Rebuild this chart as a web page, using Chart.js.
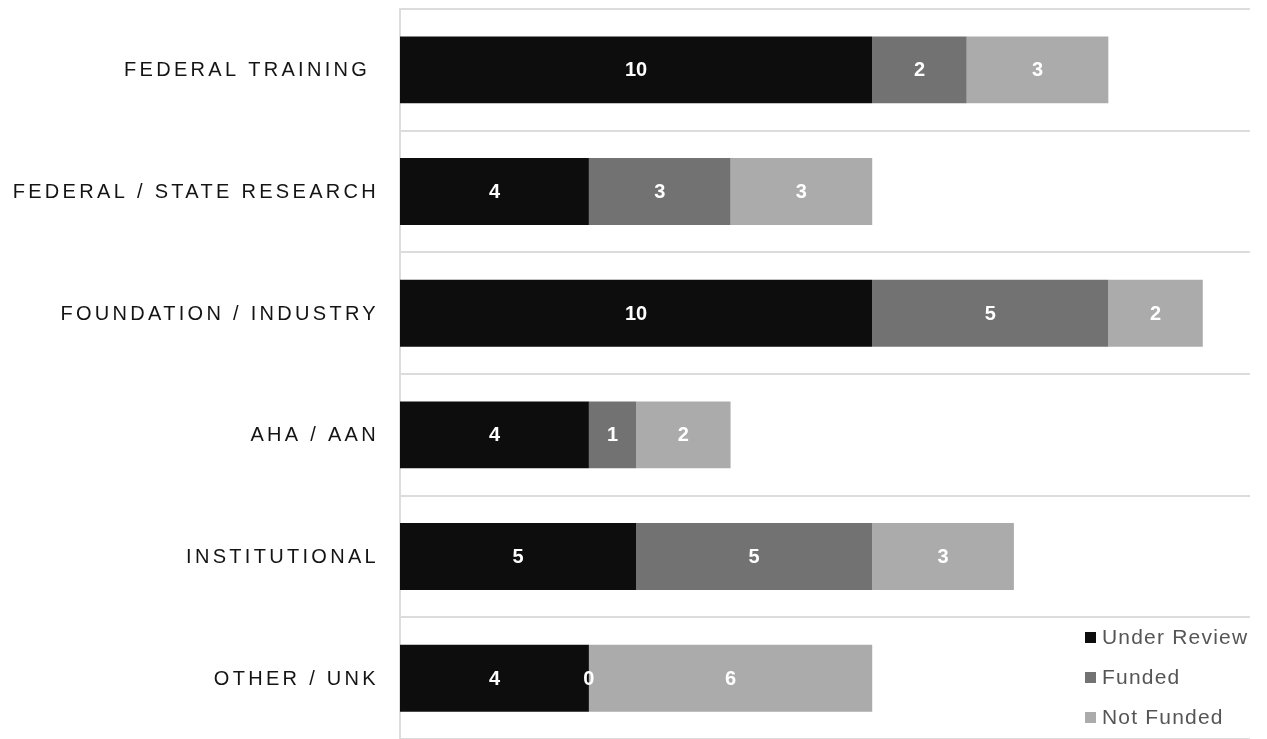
<!DOCTYPE html>
<html>
<head>
<meta charset="utf-8">
<script src="https://cdn.jsdelivr.net/npm/chart.js@4"></script>
<style>
  html, body { margin: 0; padding: 0; background: #fff; }
  #wrap { width: 1267px; height: 739px; position: relative; }
</style>
</head>
<body>
<div id="wrap"><canvas id="grantChart"></canvas></div>
<script>
/* ===============================
   Data
================================*/
const categories = [
  "FEDERAL TRAINING ",
  "FEDERAL / STATE RESEARCH",
  "FOUNDATION / INDUSTRY",
  "AHA / AAN",
  "INSTITUTIONAL",
  "OTHER / UNK"
];
const seriesNames = ["Under Review", "Funded", "Not Funded"];
const underReview = [10, 4, 10, 4, 5, 4];
const funded = [2, 3, 5, 1, 5, 0];
const notFunded = [3, 3, 2, 2, 3, 6];
const seriesColors = ["#0d0d0d", "#727272", "#ababab"];

const FONT = "'Liberation Sans', Arial, sans-serif";

/* ===============================
   Plugin: category labels (letter-spaced)
================================*/
const categoryLabels = {
  id: "categoryLabels",
  afterDraw(chart) {
    const ctx = chart.ctx;
    const yScale = chart.scales.y;
    ctx.save();
    ctx.font = "20px " + FONT;
    ctx.fillStyle = "#141414";
    ctx.textAlign = "right";
    ctx.textBaseline = "middle";
    ctx.letterSpacing = "3.3px";
    categories.forEach((label, i) => {
      ctx.fillText(label, chart.chartArea.left - 21, yScale.getPixelForValue(i) + 1);
    });
    ctx.restore();
  }
};

/* ===============================
   Plugin: value labels in bars
================================*/
const valueLabels = {
  id: "valueLabels",
  afterDatasetsDraw(chart) {
    const ctx = chart.ctx;
    ctx.save();
    ctx.font = "bold 20px " + FONT;
    ctx.fillStyle = "#ffffff";
    ctx.textAlign = "center";
    ctx.textBaseline = "middle";
    chart.data.datasets.forEach((ds, i) => {
      const meta = chart.getDatasetMeta(i);
      meta.data.forEach((bar, j) => {
        const p = bar.getProps(["x", "y", "base"], true);
        ctx.fillText(String(ds.data[j]), (p.x + p.base) / 2, p.y + 1);
      });
    });
    ctx.restore();
  }
};

/* ===============================
   Plugin: legend bottom right
================================*/
const cornerLegend = {
  id: "cornerLegend",
  afterDraw(chart) {
    const ctx = chart.ctx;
    ctx.save();
    ctx.font = "21px " + FONT;
    ctx.textAlign = "left";
    ctx.textBaseline = "middle";
    ctx.letterSpacing = "1.2px";
    seriesNames.forEach((name, i) => {
      const y = 638 + i * 40;
      ctx.fillStyle = seriesColors[i];
      ctx.fillRect(1085, y - 6, 11, 11);
      ctx.fillStyle = "#555555";
      ctx.fillText(name, 1102, y);
    });
    ctx.restore();
  }
};

/* ===============================
   Chart
================================*/
new Chart(document.getElementById("grantChart"), {
  type: "bar",
  data: {
    labels: categories,
    datasets: seriesNames.map((name, i) => ({
      label: name,
      data: [underReview, funded, notFunded][i],
      backgroundColor: seriesColors[i],
      borderWidth: 0,
      categoryPercentage: 1,
      barPercentage: 0.55
    }))
  },
  options: {
    indexAxis: "y",
    responsive: true,
    maintainAspectRatio: false,
    animation: false,
    layout: { padding: { left: 400, right: 17, top: 9, bottom: 0 } },
    plugins: {
      legend: { display: false },
      tooltip: { enabled: false }
    },
    scales: {
      x: {
        stacked: true,
        min: 0,
        max: 18,
        display: false
      },
      y: {
        stacked: true,
        ticks: { display: false },
        grid: {
          offset: true,
          color: "#dcdcdc",
          lineWidth: 2,
          drawTicks: false
        },
        border: { color: "#dcdcdc", width: 2 }
      }
    }
  },
  plugins: [categoryLabels, valueLabels, cornerLegend]
});
</script>
</body>
</html>
